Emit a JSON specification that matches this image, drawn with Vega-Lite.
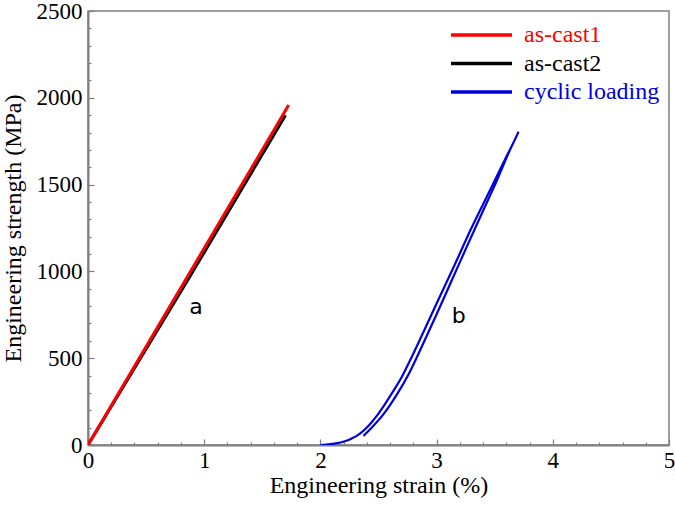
{
  "$schema": "https://vega.github.io/schema/vega-lite/v6.json",
  "autosize": "none",
  "width": 581,
  "height": 434,
  "padding": {"left": 88, "top": 11, "right": 6, "bottom": 60},
  "background": "white",
  "config": {
    "view": {"stroke": "#7f7f7f", "strokeWidth": 1.5},
    "axis": {
      "grid": false,
      "domainColor": "#7f7f7f",
      "domainWidth": 2,
      "tickColor": "#7f7f7f",
      "tickWidth": 1.2,
      "labelFont": "Liberation Serif",
      "labelFontSize": 23,
      "labelColor": "black",
      "titleFont": "Liberation Serif",
      "titleFontSize": 24,
      "titleFontWeight": "normal",
      "titleColor": "black",
      "labelOverlap": false,
      "labelFlush": false
    }
  },
  "resolve": {"axis": {"x": "independent", "y": "independent"}},
  "datasets": {
    "curves": [
      {"s": "as-cast2", "x": 0, "y": 0, "i": 0},
      {"s": "as-cast2", "x": 0.85, "y": 940, "i": 1},
      {"s": "as-cast2", "x": 1.70, "y": 1900, "i": 2},
      {"s": "as-cast1", "x": 0, "y": 0, "i": 0},
      {"s": "as-cast1", "x": 0.86, "y": 975, "i": 1},
      {"s": "as-cast1", "x": 1.727, "y": 1958, "i": 2},
      {"s": "cyclic loading", "x": 2.00, "y": 0, "i": 0},
      {"s": "cyclic loading", "x": 2.05, "y": 2, "i": 1},
      {"s": "cyclic loading", "x": 2.10, "y": 6, "i": 2},
      {"s": "cyclic loading", "x": 2.15, "y": 11, "i": 3},
      {"s": "cyclic loading", "x": 2.19, "y": 17, "i": 4},
      {"s": "cyclic loading", "x": 2.23, "y": 26, "i": 5},
      {"s": "cyclic loading", "x": 2.27, "y": 38, "i": 6},
      {"s": "cyclic loading", "x": 2.305, "y": 50, "i": 7},
      {"s": "cyclic loading", "x": 2.34, "y": 66, "i": 8},
      {"s": "cyclic loading", "x": 2.375, "y": 85, "i": 9},
      {"s": "cyclic loading", "x": 2.41, "y": 108, "i": 10},
      {"s": "cyclic loading", "x": 2.445, "y": 134, "i": 11},
      {"s": "cyclic loading", "x": 2.48, "y": 163, "i": 12},
      {"s": "cyclic loading", "x": 2.55, "y": 230, "i": 13},
      {"s": "cyclic loading", "x": 2.62, "y": 303, "i": 14},
      {"s": "cyclic loading", "x": 2.70, "y": 392, "i": 15},
      {"s": "cyclic loading", "x": 2.77, "y": 485, "i": 16},
      {"s": "cyclic loading", "x": 2.85, "y": 598, "i": 17},
      {"s": "cyclic loading", "x": 3.00, "y": 815, "i": 18},
      {"s": "cyclic loading", "x": 3.15, "y": 1030, "i": 19},
      {"s": "cyclic loading", "x": 3.30, "y": 1250, "i": 20},
      {"s": "cyclic loading", "x": 3.45, "y": 1455, "i": 21},
      {"s": "cyclic loading", "x": 3.60, "y": 1660, "i": 22},
      {"s": "cyclic loading", "x": 3.705, "y": 1805, "i": 23},
      {"s": "cyclic loading", "x": 3.625, "y": 1690, "i": 24},
      {"s": "cyclic loading", "x": 3.51, "y": 1510, "i": 25},
      {"s": "cyclic loading", "x": 3.39, "y": 1335, "i": 26},
      {"s": "cyclic loading", "x": 3.265, "y": 1150, "i": 27},
      {"s": "cyclic loading", "x": 3.125, "y": 940, "i": 28},
      {"s": "cyclic loading", "x": 3.005, "y": 760, "i": 29},
      {"s": "cyclic loading", "x": 2.878, "y": 575, "i": 30},
      {"s": "cyclic loading", "x": 2.765, "y": 415, "i": 31},
      {"s": "cyclic loading", "x": 2.648, "y": 280, "i": 32},
      {"s": "cyclic loading", "x": 2.54, "y": 175, "i": 33},
      {"s": "cyclic loading", "x": 2.455, "y": 110, "i": 34},
      {"s": "cyclic loading", "x": 2.40, "y": 72, "i": 35},
      {"s": "cyclic loading", "x": 2.37, "y": 52, "i": 36}
    ],
    "labels": [
      {"t": "a", "x": 0.93, "y": 795},
      {"t": "b", "x": 3.19, "y": 745}
    ]
  },
  "layer": [
    {
      "data": {"name": "curves"},
      "transform": [{"filter": "datum.s == 'as-cast2'"}],
      "mark": {"type": "line", "strokeWidth": 3, "clip": true},
      "encoding": {
        "x": {
          "field": "x", "type": "quantitative",
          "scale": {"domain": [0, 5], "nice": false, "zero": false},
          "axis": {
            "orient": "bottom",
            "title": "Engineering strain (%)",
            "values": [0, 1, 2, 3, 4, 5],
            "format": "d",
            "tickSize": -6,
            "labelOverlap": false,
            "labelFlush": false,
            "labelPadding": 10,
            "titlePadding": 1
          }
        },
        "y": {
          "field": "y", "type": "quantitative",
          "scale": {"domain": [0, 2500], "nice": false},
          "axis": {
            "orient": "left",
            "title": "Engineering strength (MPa)",
            "values": [0, 500, 1000, 1500, 2000, 2500],
            "format": "d",
            "tickSize": -6,
            "labelOverlap": false,
            "labelFlush": false,
            "labelPadding": 12,
            "titlePadding": 11
          }
        },
        "color": {
          "field": "s", "type": "nominal",
          "scale": {"domain": ["as-cast1", "as-cast2", "cyclic loading"], "range": ["#ff0000", "#000000", "#0000dd"]},
          "legend": {
            "title": null,
            "orient": "none",
            "legendX": 361,
            "legendY": 13,
            "padding": 0,
            "symbolType": "stroke",
            "symbolSize": 3721,
            "symbolStrokeWidth": 3.5,
            "clipHeight": 22,
            "rowPadding": 4.5,
            "labelOffset": 10,
            "labelFont": "Liberation Serif",
            "labelFontSize": 24,
            "labelLimit": 300,
            "encode": {
              "labels": {
                "update": {
                  "fill": {"signal": "datum.value == 'as-cast1' ? '#ff0000' : datum.value == 'as-cast2' ? '#000000' : '#0000dd'"},
                  "font": {"value": "Liberation Serif"}
                }
              }
            }
          }
        },
        "order": {"field": "i", "type": "quantitative"}
      }
    },
    {
      "data": {"name": "curves"},
      "transform": [{"filter": "datum.s == 'as-cast1'"}],
      "mark": {"type": "line", "strokeWidth": 3, "clip": true},
      "encoding": {
        "x": {
          "field": "x", "type": "quantitative",
          "axis": {
            "orient": "bottom",
            "title": null,
            "labels": false,
            "domain": false,
            "tickSize": -3,
            "values": [0.2,0.4,0.6,0.8,1.2,1.4,1.6,1.8,2.2,2.4,2.6,2.8,3.2,3.4,3.6,3.8,4.2,4.4,4.6,4.8]
          }
        },
        "y": {
          "field": "y", "type": "quantitative",
          "axis": {
            "orient": "left",
            "title": null,
            "labels": false,
            "domain": false,
            "tickSize": -3,
            "values": [100,200,300,400,600,700,800,900,1100,1200,1300,1400,1600,1700,1800,1900,2100,2200,2300,2400]
          }
        },
        "color": {"field": "s", "type": "nominal"},
        "order": {"field": "i", "type": "quantitative"}
      }
    },
    {
      "data": {"name": "curves"},
      "transform": [{"filter": "datum.s == 'cyclic loading'"}],
      "mark": {"type": "line", "strokeWidth": 2.2, "clip": true, "interpolate": "monotone"},
      "encoding": {
        "x": {"field": "x", "type": "quantitative", "axis": null},
        "y": {"field": "y", "type": "quantitative", "axis": null},
        "color": {"field": "s", "type": "nominal"},
        "order": {"field": "i", "type": "quantitative"}
      }
    },
    {
      "data": {"name": "labels"},
      "mark": {"type": "text", "font": "DejaVu Sans", "fontSize": 22, "align": "center", "baseline": "middle", "color": "black"},
      "encoding": {
        "x": {"field": "x", "type": "quantitative", "axis": null},
        "y": {"field": "y", "type": "quantitative", "axis": null},
        "text": {"field": "t"}
      }
    }
  ]
}
